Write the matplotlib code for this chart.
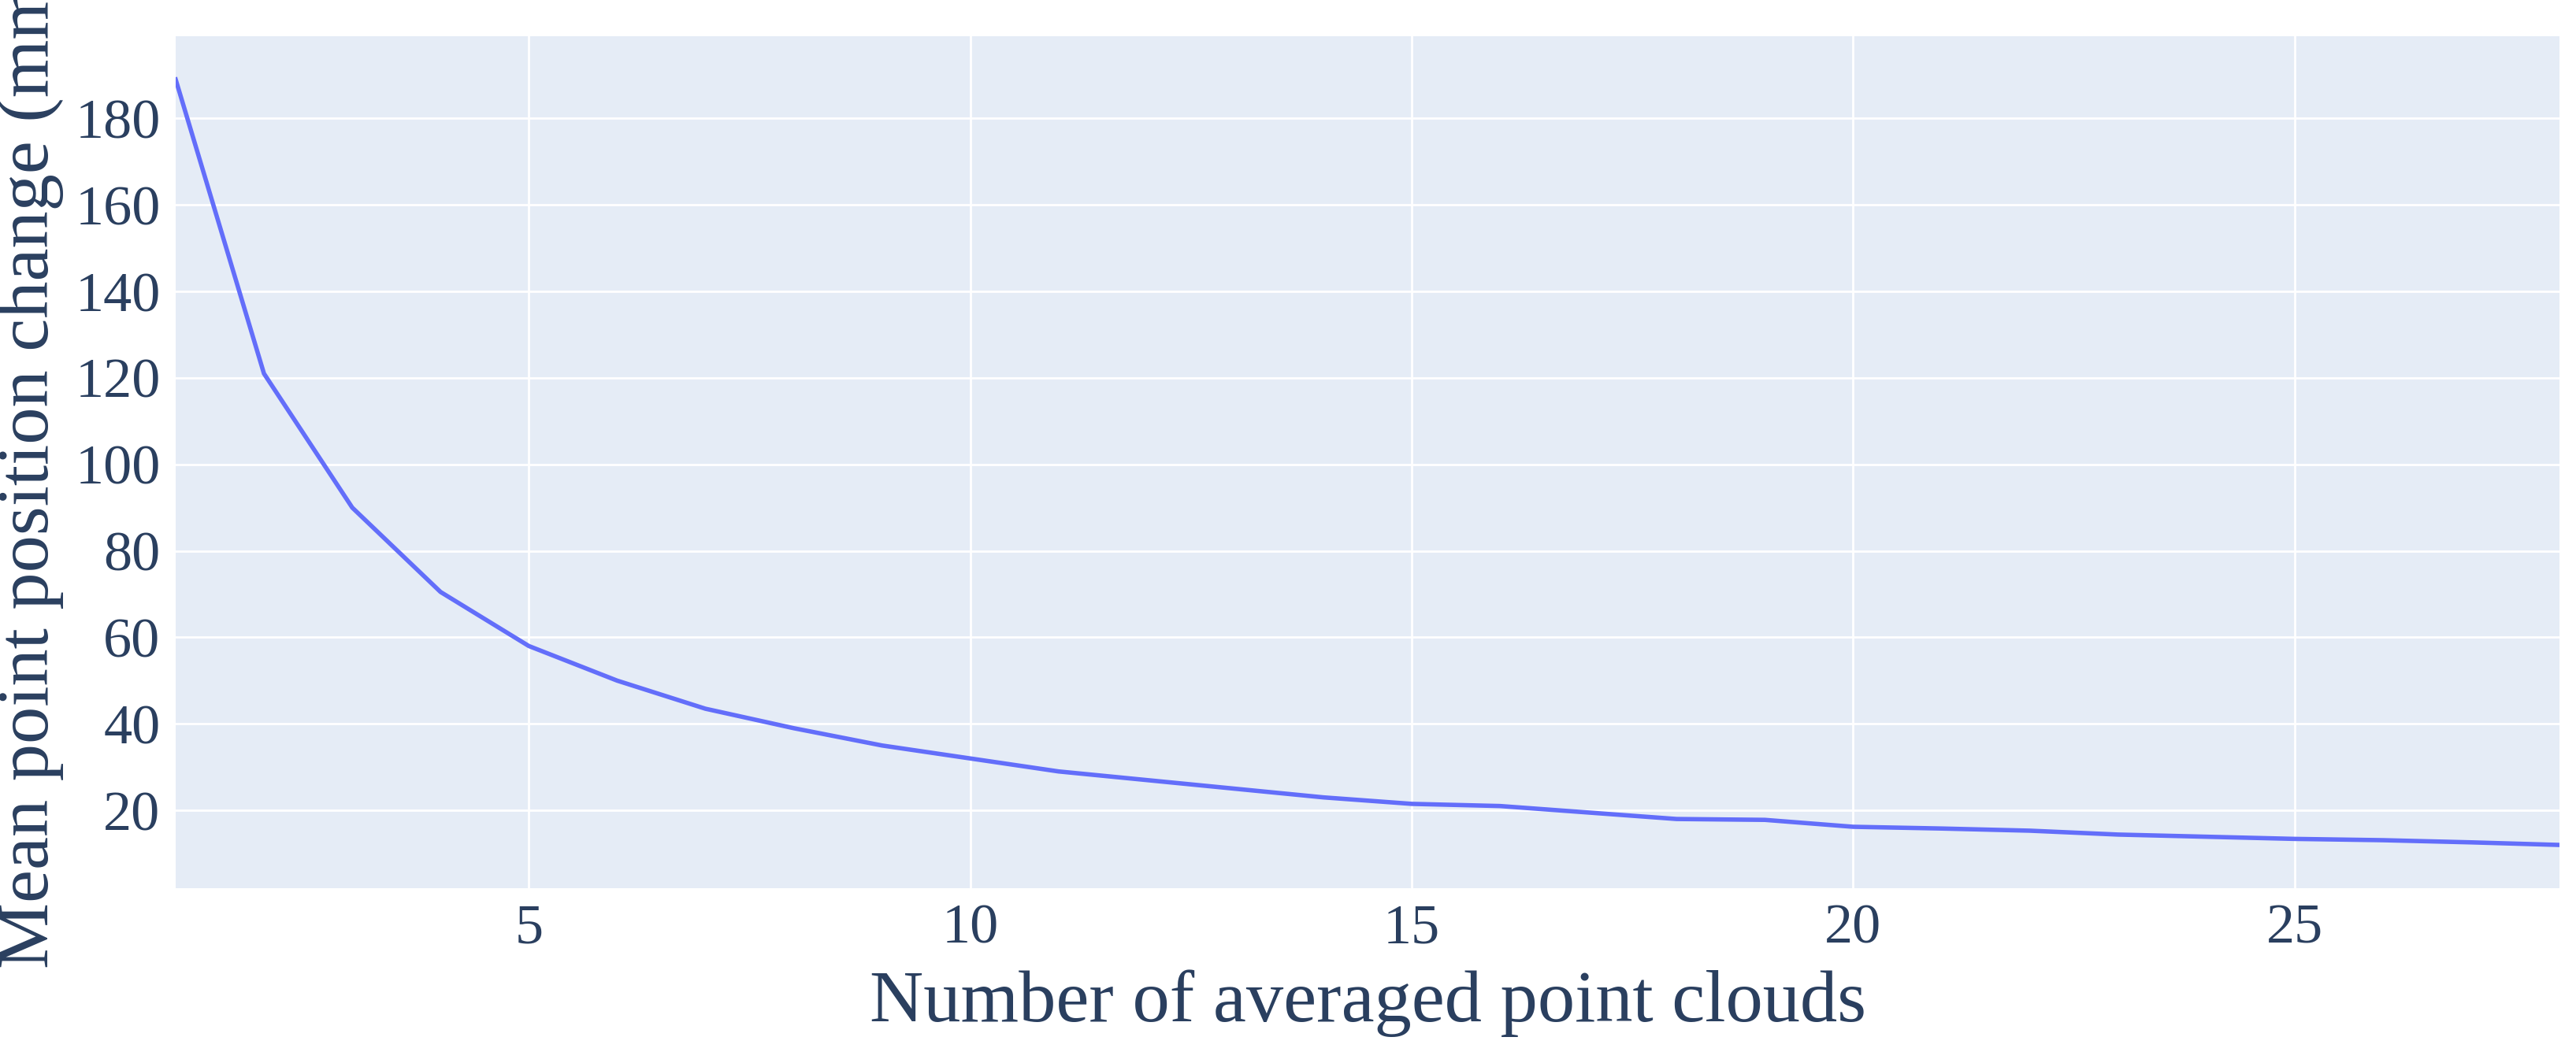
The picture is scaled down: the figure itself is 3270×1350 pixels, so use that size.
import matplotlib
matplotlib.use("Agg")
import matplotlib.pyplot as plt

x_vals = list(range(1, 29))
y_vals = [189, 121, 90, 70.5, 58, 50, 43.5, 39, 35, 32, 29, 27, 25, 23, 21.5, 21,
          19.5, 18, 17.8, 16.2, 15.8, 15.3, 14.4, 13.9, 13.4, 13.1, 12.6, 12]
x_ticks = [5, 10, 15, 20, 25]
y_ticks = [20, 40, 60, 80, 100, 120, 140, 160, 180]

plt.rcParams['font.family'] = ['Liberation Serif', 'DejaVu Serif']
fig = plt.figure(figsize=(32.7, 13.5), dpi=100)
ax = fig.add_axes([223/3270, 1-1128/1350, (3249-223)/3270, (1128-46)/1350])
ax.set_facecolor('#E5ECF6')
ax.plot(x_vals, y_vals, color='#636EFA', lw=4)
ax.set_xlim(1, 28)
ax.set_ylim(2, 199)
ax.set_xticks(x_ticks)
ax.set_yticks(y_ticks)
ax.grid(True, color='white', lw=2)
ax.set_axisbelow(True)
for s in ax.spines.values():
    s.set_visible(False)
tc = '#2a3f5f'
ax.tick_params(length=0, labelsize=52, colors=tc, pad=14)
ax.set_xlabel('Number of averaged point clouds', fontsize=68, color=tc, labelpad=14)
ax.set_ylabel('Mean point position change (mm)', fontsize=68, color=tc, labelpad=10)
fig.savefig('out.png', dpi=100, facecolor='white')
